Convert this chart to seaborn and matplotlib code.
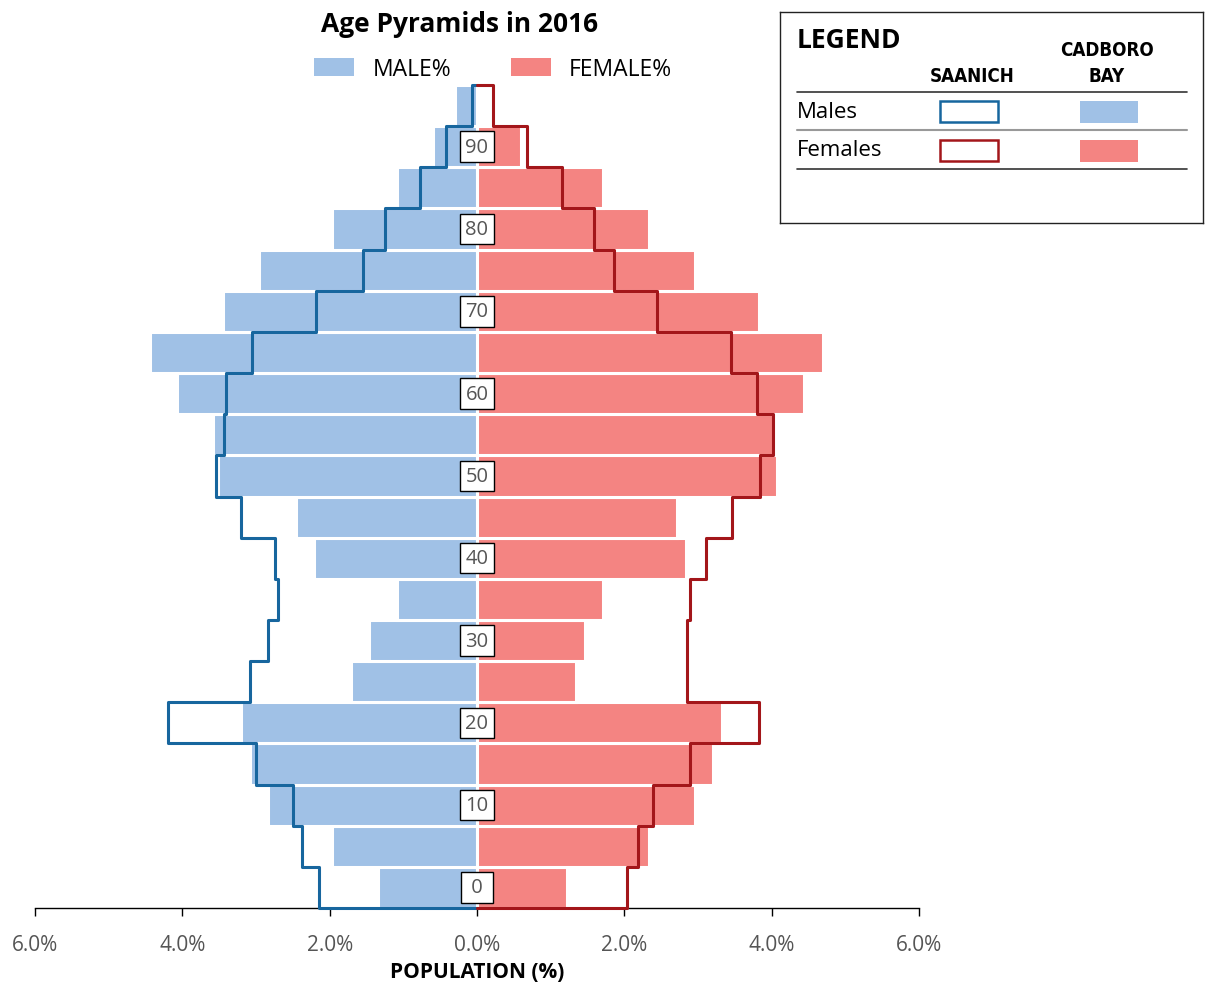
import matplotlib
matplotlib.use("Agg")
import matplotlib.pyplot as plt
from matplotlib.patches import Rectangle
import numpy as np
import pandas as pd
import seaborn as sns

# age group start (5-year bins)
ages = [0, 5, 10, 15, 20, 25, 30, 35, 40, 45, 50, 55, 60, 65, 70, 75, 80, 85, 90, 95]

# Cadboro Bay (filled bars), % of population
cadboro_male = [1.34, 1.97, 2.84, 3.08, 3.20, 1.71, 1.47, 1.09, 2.21, 2.46,
                3.52, 3.58, 4.07, 4.44, 3.45, 2.96, 1.97, 1.09, 0.60, 0.30]
cadboro_female = [1.22, 2.33, 2.96, 3.20, 3.33, 1.34, 1.47, 1.71, 2.84, 2.71,
                  4.07, 4.05, 4.44, 4.70, 3.83, 2.96, 2.33, 1.71, 0.60, 0.0]

# Saanich (outline), % of population
saanich_male = [2.14, 2.38, 2.50, 3.00, 4.19, 3.08, 2.84, 2.70, 2.74, 3.20,
                3.54, 3.43, 3.41, 3.05, 2.19, 1.55, 1.25, 0.77, 0.42, 0.07]
saanich_female = [2.04, 2.19, 2.39, 2.89, 3.83, 2.85, 2.85, 2.89, 3.11, 3.46,
                  3.84, 4.02, 3.80, 3.45, 2.44, 1.86, 1.59, 1.15, 0.68, 0.22]

age_labels = [0, 10, 20, 30, 40, 50, 60, 70, 80, 90]
x_ticks = [-6, -4, -2, 0, 2, 4, 6]

MALE_FILL = "#A0C1E6"
FEMALE_FILL = "#F48482"
MALE_LINE = "#17669E"
FEMALE_LINE = "#A3161A"
GRAY = "#555555"


def outline_path(vals, sign):
    xs = [0] + [sign * v for v in vals for _ in (0, 1)] + [0]
    ys = [ages[0] - 2.5] + [a + d for a in ages for d in (-2.5, 2.5)] + [ages[-1] + 2.5]
    return xs, ys


sns.set_style("white")
plt.rcParams["font.family"] = ["Open Sans", "DejaVu Sans"]
plt.rcParams["text.color"] = "black"

df = pd.DataFrame({
    "age": ages * 2,
    "pct": [-v for v in cadboro_male] + cadboro_female,
    "sex": ["MALE%"] * len(ages) + ["FEMALE%"] * len(ages),
})

fig = plt.figure(figsize=(12.07, 9.87), dpi=100)
ax = fig.add_axes([35 / 1207, 1 - 909 / 987, 884 / 1207, 823 / 987])

sns.barplot(data=df, x="pct", y="age", hue="sex", orient="y", native_scale=True,
            dodge=False, width=1, errorbar=None, saturation=1,
            palette={"MALE%": MALE_FILL, "FEMALE%": FEMALE_FILL},
            edgecolor="white", linewidth=2.2, ax=ax)

xs, ys = outline_path(saanich_male, -1)
ax.plot(xs, ys, color=MALE_LINE, lw=2.2, clip_on=False, zorder=5)
xs, ys = outline_path(saanich_female, 1)
ax.plot(xs, ys, color=FEMALE_LINE, lw=2.2, clip_on=False, zorder=5)

for a in age_labels:
    lbl = str(a) if a >= 10 else f" {a} "
    ax.text(0, a, lbl, ha="center", va="center", fontsize=14.5, color=GRAY, zorder=6,
            bbox=dict(boxstyle="square,pad=0.26", fc="white", ec="black", lw=1))

ax.set_xlim(-6, 6)
ax.set_ylim(-2.5, 97.5)
ax.set_xticks(x_ticks)
ax.set_xticklabels([f"{abs(t):.1f}%" for t in x_ticks], fontsize=15, color=GRAY)
ax.set_yticks([])
ax.set_ylabel("")
ax.set_xlabel("POPULATION (%)", fontsize=15, fontweight="bold", labelpad=4, color="black")
ax.tick_params(axis="x", bottom=True, direction="out", length=6, width=1, color="black", pad=13)
for s in ["left", "right", "top"]:
    ax.spines[s].set_visible(False)
ax.spines["bottom"].set_color("black")
ax.spines["bottom"].set_linewidth(1)

sns.move_legend(ax, "center", bbox_to_anchor=(493 / 1207, 1 - 70 / 987),
                bbox_transform=fig.transFigure, ncol=2, frameon=False, title=None,
                fontsize=16.5, handlelength=1.75, handleheight=0.85,
                handletextpad=0.8, columnspacing=2.6)
leg = ax.get_legend()
for h in leg.legend_handles:
    h.set_edgecolor("none")
    h.set_linewidth(0)

fig.text(460 / 1207, 1 - 24 / 987, "Age Pyramids in 2016", ha="center", va="center",
         fontsize=19, fontweight="bold")

# custom legend table
lax = fig.add_axes([780 / 1207, 1 - 224 / 987, 423 / 1207, 211 / 987])
lax.set_xlim(780, 1203)
lax.set_ylim(224, 13)
lax.set_xticks([])
lax.set_yticks([])
for s in lax.spines.values():
    s.set_color("#222222")
    s.set_linewidth(1)

lax.text(797, 40, "LEGEND", fontsize=19, fontweight="bold", va="center", ha="left")
cond = dict(fontsize=13.5, fontweight="bold", ha="center", va="center",
            family="DejaVu Sans", fontstretch="condensed")
lax.text(972, 77, "SAANICH", **cond)
lax.text(1107, 51, "CADBORO", **cond)
lax.text(1107, 77, "BAY", **cond)
lax.plot([797, 1187], [93, 93], color="#333333", lw=1.2)
lax.plot([797, 1187], [131, 131], color="#999999", lw=1.5)
lax.plot([797, 1187], [170, 170], color="#333333", lw=1.2)
lax.text(797, 113, "Males", fontsize=16, va="center", ha="left")
lax.text(797, 151, "Females", fontsize=16, va="center", ha="left")
lax.add_patch(Rectangle((940, 102), 58, 21, fc="white", ec=MALE_LINE, lw=1.8))
lax.add_patch(Rectangle((940, 141), 58, 21, fc="white", ec=FEMALE_LINE, lw=1.8))
lax.add_patch(Rectangle((1080, 102), 58, 22, fc=MALE_FILL, ec="none"))
lax.add_patch(Rectangle((1080, 141), 58, 22, fc=FEMALE_FILL, ec="none"))

fig.savefig("out.png", dpi=100)
